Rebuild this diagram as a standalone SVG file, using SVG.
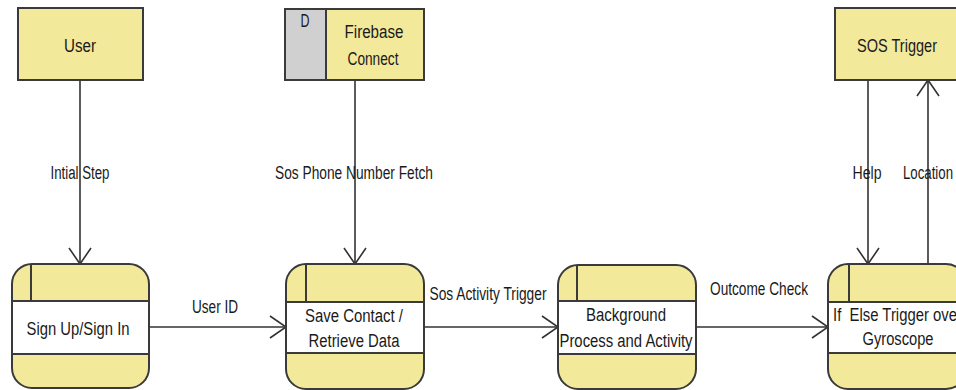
<svg xmlns="http://www.w3.org/2000/svg" width="956" height="390" viewBox="0 0 956 390">
<defs>
<style>
.box{fill:#F3E99B;stroke:#3a3a3a;stroke-width:2}
.band{fill:#ffffff;stroke:#3a3a3a;stroke-width:2}
.ln{fill:none;stroke:#3a3a3a;stroke-width:2}
.edge{fill:none;stroke:#333333;stroke-width:1.6}
text{font-family:"Liberation Sans",Arial,sans-serif;font-size:18px;fill:#1a1a1a;text-anchor:middle}
</style>
<marker id="arr" viewBox="0 0 18 24" refX="17" refY="12" markerWidth="18" markerHeight="24" markerUnits="userSpaceOnUse" orient="auto">
<path d="M1,1 L17,12 L1,23" fill="none" stroke="#333333" stroke-width="1.6"/>
</marker>
</defs>
<rect width="956" height="390" fill="#ffffff"/>

<g id="connectors">
<line class="edge" x1="80" y1="80" x2="80" y2="264" marker-end="url(#arr)"/>
<line class="edge" x1="355" y1="80" x2="355" y2="264" marker-end="url(#arr)"/>
<line class="edge" x1="868" y1="80" x2="868" y2="264" marker-end="url(#arr)"/>
<line class="edge" x1="928" y1="264" x2="928" y2="80" marker-end="url(#arr)"/>
<line class="edge" x1="149" y1="327" x2="286" y2="327" marker-end="url(#arr)"/>
<line class="edge" x1="424" y1="327" x2="558" y2="327" marker-end="url(#arr)"/>
<line class="edge" x1="696" y1="327" x2="828" y2="327" marker-end="url(#arr)"/>
<text x="80" y="179" textLength="59" lengthAdjust="spacingAndGlyphs">Intial Step</text>
<text x="354" y="179" textLength="158" lengthAdjust="spacingAndGlyphs">Sos Phone Number Fetch</text>
<text x="867" y="179" textLength="29" lengthAdjust="spacingAndGlyphs">Help</text>
<text x="928" y="179" textLength="50" lengthAdjust="spacingAndGlyphs">Location</text>
<text x="215" y="313" textLength="46" lengthAdjust="spacingAndGlyphs">User ID</text>
<text x="488" y="300" textLength="117" lengthAdjust="spacingAndGlyphs">Sos Activity Trigger</text>
<text x="759" y="295" textLength="98" lengthAdjust="spacingAndGlyphs">Outcome Check</text>
</g>

<g id="user">
<rect class="box" x="18" y="8" width="125" height="72"/>
<text x="80" y="52" textLength="32" lengthAdjust="spacingAndGlyphs">User</text>
</g>

<g id="firebase">
<rect class="box" x="285" y="9" width="139" height="71"/>
<rect x="285" y="9" width="41" height="71" fill="#D0D0D0" stroke="#3a3a3a" stroke-width="2"/>
<text x="305" y="27" textLength="9" lengthAdjust="spacingAndGlyphs">D</text>
<text x="374" y="38" textLength="59" lengthAdjust="spacingAndGlyphs">Firebase</text>
<text x="373" y="65" textLength="51" lengthAdjust="spacingAndGlyphs">Connect</text>
</g>

<g id="sos">
<rect class="box" x="835" y="8" width="126" height="72"/>
<text x="897" y="52" textLength="80" lengthAdjust="spacingAndGlyphs">SOS Trigger</text>
</g>

<g id="signup">
<rect class="box" x="12" y="264" width="137" height="124" rx="20" ry="20"/>
<rect class="band" x="12" y="301" width="137" height="53"/>
<line class="ln" x1="31" y1="264" x2="31" y2="301"/>
<text x="78" y="335" textLength="103" lengthAdjust="spacingAndGlyphs">Sign Up/Sign In</text>
</g>

<g id="savecontact">
<rect class="box" x="286" y="264" width="138" height="125" rx="20" ry="20"/>
<rect class="band" x="286" y="302" width="138" height="51"/>
<line class="ln" x1="306" y1="264" x2="306" y2="302"/>
<text x="354" y="322" textLength="98" lengthAdjust="spacingAndGlyphs">Save Contact /</text>
<text x="354" y="347" textLength="91" lengthAdjust="spacingAndGlyphs">Retrieve Data</text>
</g>

<g id="background">
<rect class="box" x="558" y="265" width="138" height="124" rx="20" ry="20"/>
<rect class="band" x="558" y="301" width="138" height="53"/>
<line class="ln" x1="577" y1="265" x2="577" y2="301"/>
<text x="626" y="321" textLength="80" lengthAdjust="spacingAndGlyphs">Background</text>
<text x="626" y="347" textLength="133" lengthAdjust="spacingAndGlyphs">Process and Activity</text>
</g>

<g id="ifelse">
<rect class="box" x="828" y="264" width="138" height="125" rx="20" ry="20"/>
<rect class="band" x="828" y="302" width="138" height="51"/>
<line class="ln" x1="849" y1="264" x2="849" y2="302"/>
<text x="833" y="321" style="text-anchor:start" xml:space="preserve" textLength="129" lengthAdjust="spacingAndGlyphs">If  Else Trigger over</text>
<text x="898" y="345" textLength="71" lengthAdjust="spacingAndGlyphs">Gyroscope</text>
</g>
</svg>
